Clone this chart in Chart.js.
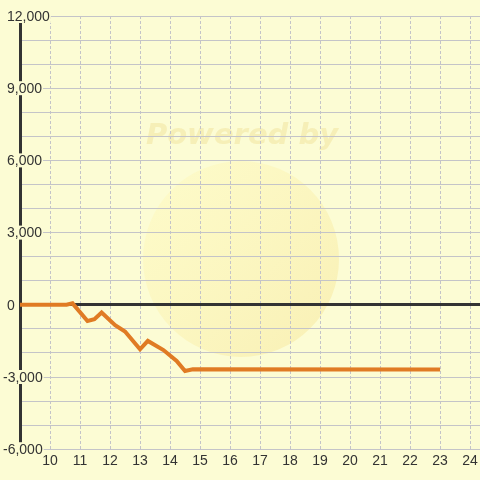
<!DOCTYPE html>
<html>
<head>
<meta charset="utf-8">
<script src="https://cdn.jsdelivr.net/npm/chart.js@4"></script>
<style>
  html, body { margin: 0; padding: 0; background: #fcfcd4; }
  #wrap { width: 480px; height: 480px; }
</style>
</head>
<body>
<div id="wrap"><canvas id="chart-saldo"></canvas></div>
<script>
  // hora do dia e saldo acumulado
  const horas = [9, 10.55, 10.75, 11.25, 11.48, 11.72, 12.17, 12.5, 13.0, 13.26, 13.78, 14.22, 14.5, 14.76, 23];
  const saldo = [0, 0, 60, -670, -600, -320, -850, -1110, -1850, -1500, -1880, -2330, -2750, -2680, -2690];
  const yTicks = [-6000, -3000, 0, 3000, 6000, 9000, 12000];

  const bg = '#fcfcd4';
  const textColor = '#333333';
  const fonte = { family: 'Liberation Sans', size: 14 };

  const fundo = {
    id: 'fundo',
    beforeDraw(chart) {
      const ctx = chart.ctx;
      ctx.save();
      ctx.fillStyle = bg;
      ctx.fillRect(0, 0, chart.width, chart.height);
      // marca d'agua
      const g = ctx.createLinearGradient(170, 190, 320, 330);
      g.addColorStop(0, 'rgba(255, 245, 170, 0.3)');
      g.addColorStop(1, 'rgba(245, 225, 140, 0.4)');
      ctx.fillStyle = g;
      ctx.beginPath();
      ctx.arc(241, 259, 98, 0, Math.PI * 2);
      ctx.fill();
      ctx.fillStyle = 'rgba(235, 215, 130, 0.35)';
      ctx.font = 'italic bold 29px "DejaVu Sans"';
      ctx.textAlign = 'center';
      ctx.textBaseline = 'middle';
      ctx.fillText('Powered by', 242, 136);
      ctx.restore();
    }
  };

  // rótulos do eixo y desenhados por cima do eixo, com fundo
  const rotulosY = {
    id: 'rotulosY',
    afterDraw(chart) {
      const ctx = chart.ctx;
      const y = chart.scales.y;
      ctx.save();
      ctx.font = fonte.size + 'px "' + fonte.family + '"';
      ctx.textBaseline = 'middle';
      ctx.textAlign = 'left';
      yTicks.forEach(v => {
        const txt = v.toLocaleString('en-US');
        const py = y.getPixelForValue(v);
        const w = ctx.measureText(txt).width;
        const x0 = v < 0 ? 3 : 7;
        ctx.fillStyle = bg;
        ctx.fillRect(x0 - 1, py - 7, w + 2, 14);
        ctx.fillStyle = textColor;
        ctx.fillText(txt, x0, py + 1);
      });
      ctx.restore();
    }
  };

  const config = {
    type: 'line',
    data: {
      datasets: [{
        data: horas.map((h, i) => ({ x: h, y: saldo[i] })),
        borderColor: '#e07b24',
        borderWidth: 4,
        pointRadius: 0,
        tension: 0,
        fill: false
      }]
    },
    options: {
      responsive: true,
      maintainAspectRatio: false,
      animation: false,
      layout: { autoPadding: false, padding: { left: 20, right: 0, top: 16, bottom: 6 } },
      plugins: {
        legend: { display: false },
        tooltip: { enabled: false }
      },
      scales: {
        x: {
          type: 'linear',
          min: 9,
          max: 24.33,
          border: { display: false, dash: [3, 2] },
          grid: {
            color: '#c4c4c8',
            lineWidth: 1,
            drawTicks: false
          },
          afterFit: (s) => { s.paddingLeft = 0; s.paddingRight = 0; },
          ticks: {
            stepSize: 1,
            includeBounds: false,
            padding: 4,
            color: textColor,
            font: fonte,
            maxRotation: 0,
            autoSkip: false,
            callback: (v) => v === 9 ? '' : String(v)
          }
        },
        y: {
          min: -6000,
          max: 12000,
          border: { display: true, color: '#333333', width: 3 },
          grid: {
            drawTicks: false,
            color: (c) => c.tick && c.tick.value === 0 ? '#333333' : '#c4c4c8',
            lineWidth: (c) => c.tick && c.tick.value === 0 ? 3 : 1
          },
          ticks: {
            stepSize: 1000,
            display: false
          }
        }
      }
    },
    plugins: [fundo, rotulosY]
  };

  const chartSaldo = new Chart(document.getElementById('chart-saldo'), config);
</script>
</body>
</html>
